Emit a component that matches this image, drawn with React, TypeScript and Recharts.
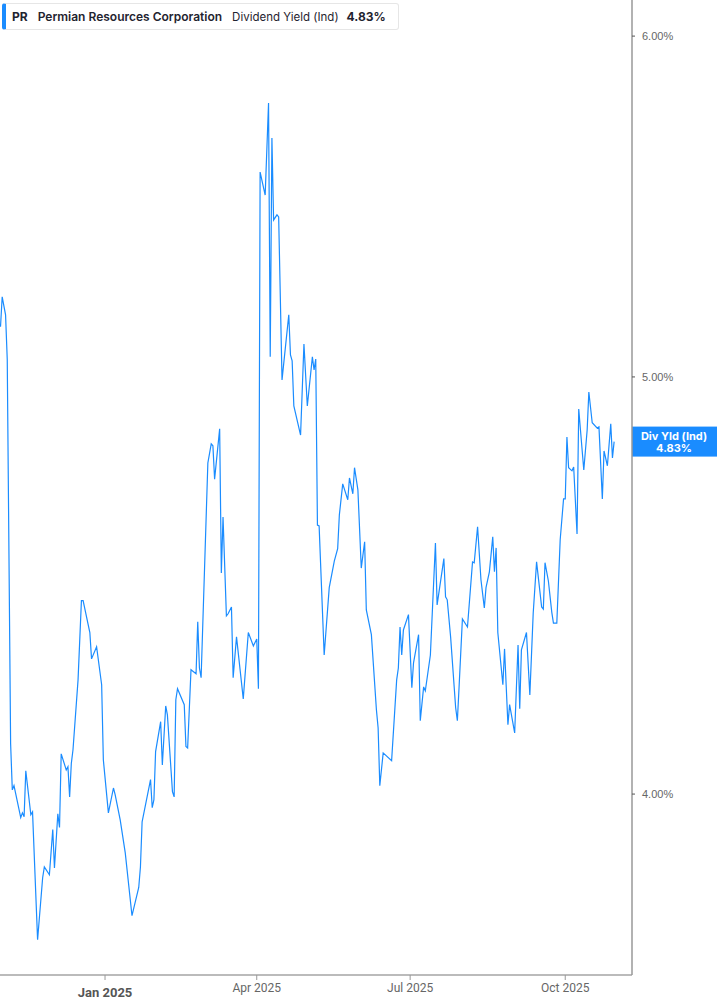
import { LineChart, Line, XAxis, YAxis, ReferenceLine } from "recharts";

// Permian Resources (PR) indicated dividend yield, in %
const dates = [
  "2024-10-31", "2024-11-01", "2024-11-03", "2024-11-04", "2024-11-06", "2024-11-07", "2024-11-08", "2024-11-12", "2024-11-13", "2024-11-14",
  "2024-11-15", "2024-11-18", "2024-11-19", "2024-11-22", "2024-11-25", "2024-11-26", "2024-11-29", "2024-12-01", "2024-12-02", "2024-12-04",
  "2024-12-05", "2024-12-06", "2024-12-09", "2024-12-10", "2024-12-11", "2024-12-12", "2024-12-13", "2024-12-16", "2024-12-18", "2024-12-19",
  "2024-12-23", "2024-12-24", "2024-12-27", "2024-12-30", "2024-12-31", "2025-01-03", "2025-01-06", "2025-01-07", "2025-01-10", "2025-01-13",
  "2025-01-17", "2025-01-21", "2025-01-22", "2025-01-23", "2025-01-28", "2025-01-29", "2025-01-30", "2025-01-31", "2025-02-03", "2025-02-04",
  "2025-02-06", "2025-02-07", "2025-02-10", "2025-02-11", "2025-02-12", "2025-02-13", "2025-02-17", "2025-02-18", "2025-02-19", "2025-02-21",
  "2025-02-24", "2025-02-25", "2025-02-26", "2025-02-27", "2025-03-03", "2025-03-05", "2025-03-06", "2025-03-07", "2025-03-10", "2025-03-11",
  "2025-03-12", "2025-03-14", "2025-03-15", "2025-03-17", "2025-03-18", "2025-03-20", "2025-03-24", "2025-03-27", "2025-03-30", "2025-04-01",
  "2025-04-02", "2025-04-03", "2025-04-06", "2025-04-08", "2025-04-09", "2025-04-10", "2025-04-11", "2025-04-13", "2025-04-14", "2025-04-16",
  "2025-04-20", "2025-04-21", "2025-04-22", "2025-04-23", "2025-04-27", "2025-04-29", "2025-05-01", "2025-05-04", "2025-05-05", "2025-05-06",
  "2025-05-07", "2025-05-08", "2025-05-11", "2025-05-14", "2025-05-17", "2025-05-19", "2025-05-20", "2025-05-22", "2025-05-25", "2025-05-26",
  "2025-05-28", "2025-05-29", "2025-05-31", "2025-06-02", "2025-06-04", "2025-06-05", "2025-06-08", "2025-06-11", "2025-06-12", "2025-06-13",
  "2025-06-15", "2025-06-20", "2025-06-23", "2025-06-24", "2025-06-25", "2025-06-26", "2025-06-27", "2025-06-30", "2025-07-02", "2025-07-03",
  "2025-07-06", "2025-07-07", "2025-07-09", "2025-07-10", "2025-07-13", "2025-07-16", "2025-07-17", "2025-07-21", "2025-07-22", "2025-07-23",
  "2025-07-25", "2025-07-28", "2025-07-29", "2025-07-30", "2025-08-01", "2025-08-04", "2025-08-07", "2025-08-08", "2025-08-10", "2025-08-12",
  "2025-08-14", "2025-08-15", "2025-08-17", "2025-08-19", "2025-08-20", "2025-08-21", "2025-08-22", "2025-08-25", "2025-08-26", "2025-08-28",
  "2025-08-29", "2025-09-01", "2025-09-03", "2025-09-04", "2025-09-05", "2025-09-08", "2025-09-10", "2025-09-12", "2025-09-14", "2025-09-17",
  "2025-09-18", "2025-09-19", "2025-09-21", "2025-09-23", "2025-09-24", "2025-09-26", "2025-09-28", "2025-09-30", "2025-10-01", "2025-10-02",
  "2025-10-03", "2025-10-05", "2025-10-06", "2025-10-08", "2025-10-09", "2025-10-12", "2025-10-14", "2025-10-15", "2025-10-17", "2025-10-20",
  "2025-10-21", "2025-10-23", "2025-10-24", "2025-10-26", "2025-10-28", "2025-10-29", "2025-10-30",
];

const yieldPct = [
  5.136, 5.219, 5.169, 5.046, 4.109, 4.009, 4.018, 3.950, 3.960, 3.952,
  4.050, 3.956, 3.962, 3.700, 3.825, 3.847, 3.831, 3.925, 3.845, 3.958,
  3.929, 4.087, 4.052, 4.059, 3.994, 4.066, 4.096, 4.252, 4.436, 4.436,
  4.361, 4.300, 4.328, 4.241, 4.074, 3.960, 4.013, 3.999, 3.945, 3.876,
  3.748, 3.805, 3.847, 3.941, 4.031, 3.971, 3.988, 4.092, 4.158, 4.063,
  4.193, 4.173, 4.005, 3.994, 4.207, 4.232, 4.196, 4.103, 4.100, 4.275,
  4.266, 4.386, 4.279, 4.257, 4.775, 4.824, 4.819, 4.734, 4.863, 4.502,
  4.639, 4.400, 4.405, 4.421, 4.257, 4.351, 4.209, 4.361, 4.330, 4.346,
  4.232, 5.579, 5.511, 5.789, 5.054, 5.682, 5.438, 5.453, 5.447, 4.992,
  5.169, 5.059, 5.043, 4.923, 4.847, 5.089, 4.923, 5.054, 5.019, 5.048,
  4.619, 4.617, 4.309, 4.467, 4.531, 4.561, 4.644, 4.722, 4.682, 4.737,
  4.697, 4.763, 4.707, 4.514, 4.578, 4.414, 4.356, 4.184, 4.144, 4.018,
  4.089, 4.072, 4.252, 4.279, 4.374, 4.309, 4.367, 4.403, 4.234, 4.291,
  4.356, 4.160, 4.236, 4.227, 4.309, 4.575, 4.426, 4.537, 4.445, 4.438,
  4.351, 4.189, 4.160, 4.234, 4.393, 4.374, 4.529, 4.527, 4.615, 4.486,
  4.419, 4.467, 4.505, 4.590, 4.505, 4.563, 4.361, 4.241, 4.323, 4.151,
  4.196, 4.133, 4.332, 4.187, 4.321, 4.361, 4.218, 4.407, 4.529, 4.421,
  4.416, 4.527, 4.483, 4.409, 4.383, 4.383, 4.583, 4.684, 4.684, 4.842,
  4.763, 4.755, 4.765, 4.597, 4.915, 4.757, 4.860, 4.960, 4.879, 4.865,
  4.868, 4.684, 4.806, 4.768, 4.876, 4.788, 4.83,
];

const xTicks = ["2025-01-01", "2025-04-01", "2025-07-01", "2025-10-01"];
const yTicks = [4, 5, 6];
const monthNames = ["Jan", "Feb", "Mar", "Apr", "May", "Jun", "Jul", "Aug", "Sep", "Oct", "Nov", "Dec"];

const BLUE = "#1a8cff";
const DAY = 86400000;
const ts = (d: string) => Date.parse(d + "T00:00:00Z");

const data = dates.map((d, i) => ({ t: ts(d), v: yieldPct[i] }));
const lastValue = yieldPct[yieldPct.length - 1];

function DateTick({ x, y, payload }: any) {
  const d = new Date(payload.value);
  const isJan = d.getUTCMonth() === 0;
  return (
    <text
      x={x}
      y={y}
      dy={isJan ? 13 : 8}
      textAnchor="middle"
      fontFamily="Roboto, sans-serif"
      fontSize={isJan ? 13 : 12}
      fontWeight={isJan ? 700 : 400}
      fill={isJan ? "#555" : "#666"}
    >
      {monthNames[d.getUTCMonth()]} {d.getUTCFullYear()}
    </text>
  );
}

function ValueTag({ viewBox }: any) {
  const x = viewBox.x + viewBox.width;
  const y = viewBox.y;
  return (
    <g>
      <rect x={x} y={y - 15} width={85} height={30} fill={BLUE} />
      <text x={x + 42} y={y - 2} textAnchor="middle" fill="#fff" fontSize={11} fontWeight={700} fontFamily="Inter, sans-serif">
        Div Yld (Ind)
      </text>
      <text x={x + 42} y={y + 10} textAnchor="middle" fill="#fff" fontSize={11} fontWeight={700} fontFamily="Inter, sans-serif">
        {lastValue.toFixed(2)}%
      </text>
    </g>
  );
}

export default function App() {
  return (
    <div style={{ position: "absolute", left: 0, top: 0, width: 717, height: 1005, background: "#fff" }}>
      <LineChart
        width={717}
        height={1005}
        data={data}
        margin={{ top: 0, right: 0, bottom: 0, left: 0 }}
        style={{ fontFamily: "'Liberation Sans', Arial, sans-serif" }}
      >
        <XAxis
          dataKey="t"
          type="number"
          scale="time"
          domain={[ts("2024-10-31") - 0.3 * DAY, ts("2025-11-09") + 0.6 * DAY]}
          ticks={xTicks.map(ts)}
          height={30}
          tickSize={5}
          tickMargin={4}
          tick={<DateTick />}
          axisLine={{ stroke: "#bbb", strokeWidth: 2 }}
          tickLine={{ stroke: "#999" }}
          allowDataOverflow
        />
        <YAxis
          orientation="right"
          type="number"
          scale="log"
          domain={[3.631, 6.117]}
          ticks={yTicks}
          width={85}
          tickSize={3}
          tickMargin={7}
          tickFormatter={(v: number) => v.toFixed(2) + "%"}
          tick={{ fill: "#666", fontSize: 11 }}
          axisLine={{ stroke: "#999", strokeWidth: 1.5 }}
          tickLine={{ stroke: "#555" }}
          allowDataOverflow
        />
        <ReferenceLine y={lastValue} stroke="none" label={<ValueTag />} />
        <Line
          type="linear"
          dataKey="v"
          stroke={BLUE}
          strokeWidth={1.2}
          dot={false}
          activeDot={false}
          isAnimationActive={false}
        />
      </LineChart>
      <div
        style={{
          position: "absolute",
          left: 2,
          top: 3,
          height: 27,
          display: "flex",
          alignItems: "center",
          background: "#fff",
          border: "1px solid #e6e6e6",
          borderLeft: `4px solid ${BLUE}`,
          borderRadius: 3,
          paddingLeft: 6,
          paddingRight: 12,
          fontFamily: "Inter, sans-serif",
          fontSize: 12,
          color: "#1f2430",
          whiteSpace: "nowrap",
          boxSizing: "border-box",
        }}
      >
        <span style={{ fontWeight: 700, marginRight: 10 }}>PR</span>
        <span style={{ fontWeight: 600, marginRight: 10 }}>Permian Resources Corporation</span>
        <span style={{ fontWeight: 400, fontSize: 11.5, marginRight: 8 }}>Dividend Yield (Ind)</span>
        <span style={{ fontWeight: 700 }}>{lastValue.toFixed(2)}%</span>
      </div>
    </div>
  );
}
